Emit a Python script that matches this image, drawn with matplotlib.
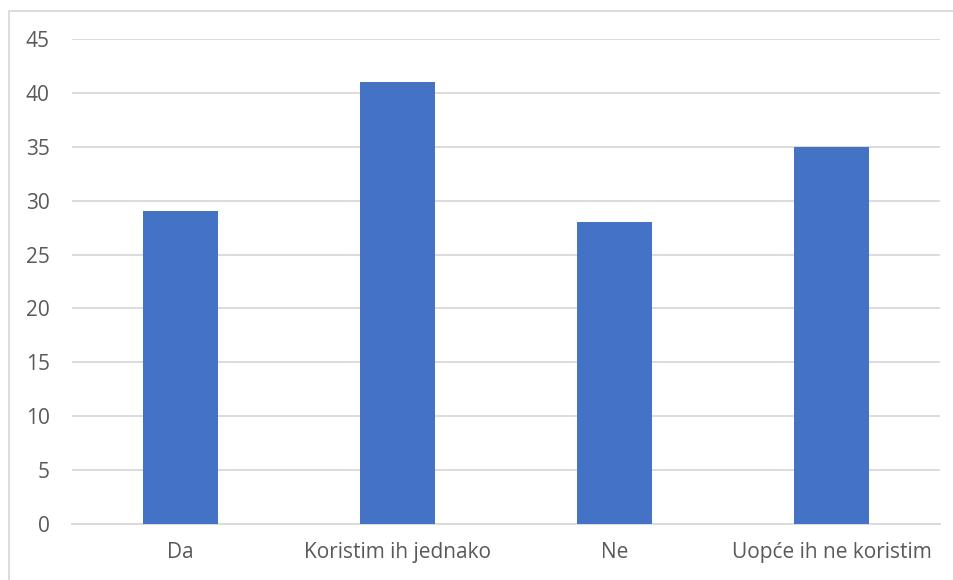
import matplotlib
matplotlib.use("Agg")
import matplotlib.pyplot as plt
from matplotlib.patches import Rectangle

categories = ["Da", "Koristim ih jednako", "Ne", "Uopće ih ne koristim"]
values = [29, 41, 28, 35]
yticks = [0, 5, 10, 15, 20, 25, 30, 35, 40, 45]

plt.rcParams['font.family'] = ['Open Sans', 'DejaVu Sans']

fig = plt.figure(figsize=(9.54, 5.80), dpi=100)
W, H = 954, 580
ax = fig.add_axes([72 / W, 1 - 524 / H, (940 - 72) / W, (524 - 39) / H])

x = list(range(len(categories)))
ax.bar(x, values, width=0.35, color="#4472C4", zorder=3)
ax.set_xlim(-0.5, len(categories) - 0.5)
ax.set_ylim(0, 45)
ax.set_yticks(yticks)
ax.set_xticks(x)
ax.set_xticklabels(categories)
ax.grid(axis="y", color="#D9D9D9", linewidth=1.3, zorder=0)
for s in ["top", "right", "left"]:
    ax.spines[s].set_visible(False)
ax.spines["bottom"].set_color("#D9D9D9")
ax.spines["bottom"].set_linewidth(1.3)
ax.tick_params(axis="both", length=0, labelsize=15, labelcolor="#595959")
ax.tick_params(axis="y", pad=16)
ax.tick_params(axis="x", pad=13)

border = Rectangle((9 / W, -0.05), 1.0, 1 - 11 / H + 0.05, transform=fig.transFigure,
                   fill=False, edgecolor="#D9D9D9", linewidth=1.3, clip_on=False)
fig.patches.append(border)

fig.savefig("out.png", dpi=100)
